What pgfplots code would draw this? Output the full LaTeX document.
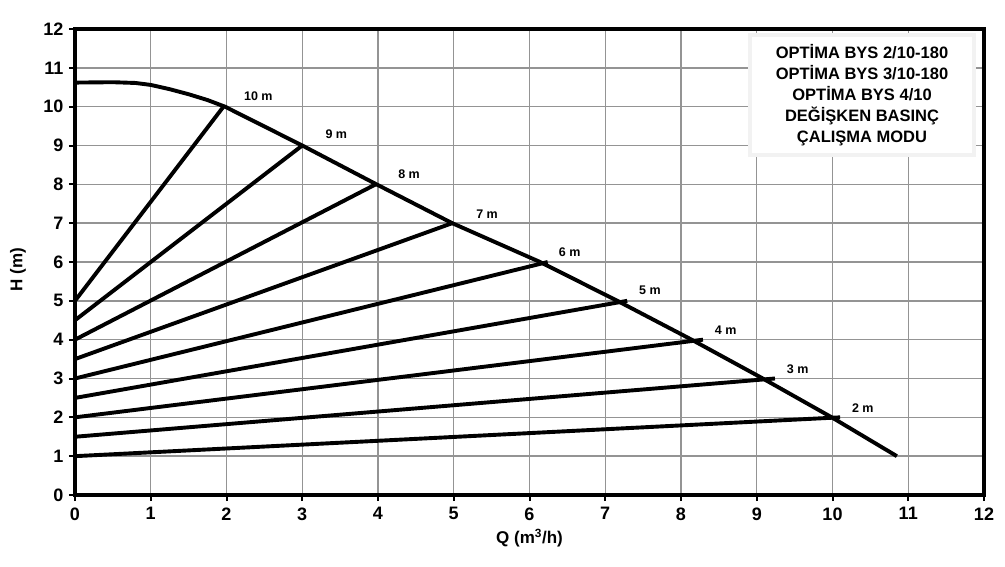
\documentclass[border=0pt]{standalone}
\usepackage{pgfplots}
\pgfplotsset{compat=1.18}
\usepackage{fontspec}
\setmainfont{Liberation Sans}
\begin{document}
\begin{tikzpicture}[x=1pt,y=1pt]
\useasboundingbox (0,0) rectangle (1005,566);
\begin{axis}[
  at={(75pt,71pt)}, anchor=south west,
  width=909pt, height=466pt, scale only axis,
  xmin=0, xmax=12, ymin=0, ymax=12,
  xtick={0,...,12}, ytick={0,...,12},
  grid=major, grid style={black!42, line width=1.4pt},
  axis line style={line width=4.2pt},
  tick pos=left, tick align=outside, major tick length=6pt,
  tick style={black, line width=2pt},
  ticklabel style={font=\fontsize{18}{18}\selectfont\bfseries},
  xticklabel style={yshift=-3pt},
  yticklabel style={xshift=-2pt},
  /pgf/number format/assume math mode=true,
  xlabel={Q (m\textsuperscript{3}/h)}, ylabel={H (m)},
  label style={font=\fontsize{17}{17}\selectfont\bfseries},
  xlabel style={at={(axis description cs:0.5,0)}, anchor=center, yshift=-43pt},
  ylabel style={at={(axis description cs:-0.0627,0.483)}, anchor=center},
]
% main curve
\addplot[black, line width=3.9pt, line join=round] coordinates {
 (0,10.62) (0.5,10.63) (0.8,10.61) (1.0,10.56) (1.25,10.45) (1.5,10.32)
 (1.75,10.17) (1.98,10.0) (3.0,9.0) (3.98,8.0) (4.98,7.0) (6.14,6.0)
 (7.16,5.0) (8.14,4.0) (9.08,3.0) (9.99,2.0) (10.85,1.0)};
% control lines
\addplot[black, line width=3.9pt] coordinates {(0,5) (1.96,10)};
\addplot[black, line width=3.9pt] coordinates {(0,4.5) (3.0,9)};
\addplot[black, line width=3.9pt] coordinates {(0,4) (3.97,8)};
\addplot[black, line width=3.9pt] coordinates {(0,3.5) (4.98,7)};
\addplot[black, line width=3.9pt] coordinates {(0,3) (6.24,6)};
\addplot[black, line width=3.9pt] coordinates {(0,2.5) (7.29,5)};
\addplot[black, line width=3.9pt] coordinates {(0,2) (8.29,4)};
\addplot[black, line width=3.9pt] coordinates {(0,1.5) (9.24,3)};
\addplot[black, line width=3.9pt] coordinates {(0,1) (10.1,2)};
% labels
\begin{scope}[every node/.style={font=\fontsize{12.5}{12.5}\selectfont\bfseries}]
\node at (axis cs:2.42,10.26) {10 m};
\node at (axis cs:3.45,9.28) {9 m};
\node at (axis cs:4.41,8.25) {8 m};
\node at (axis cs:5.44,7.24) {7 m};
\node at (axis cs:6.53,6.26) {6 m};
\node at (axis cs:7.59,5.26) {5 m};
\node at (axis cs:8.59,4.25) {4 m};
\node at (axis cs:9.54,3.25) {3 m};
\node at (axis cs:10.4,2.24) {2 m};
\end{scope}
% info box
\draw[draw=black!5, fill=white, line width=4pt]
  (rel axis cs:0.7426,0.7296) rectangle (rel axis cs:0.9895,0.9871);
\node[align=center, font=\fontsize{16.5}{21}\selectfont\bfseries]
  at (rel axis cs:0.8658,0.858)
  {OPTİMA BYS 2/10-180\\OPTİMA BYS 3/10-180\\OPTİMA BYS 4/10\\DEĞİŞKEN BASINÇ\\ÇALIŞMA MODU};
\end{axis}
\end{tikzpicture}
\end{document}
